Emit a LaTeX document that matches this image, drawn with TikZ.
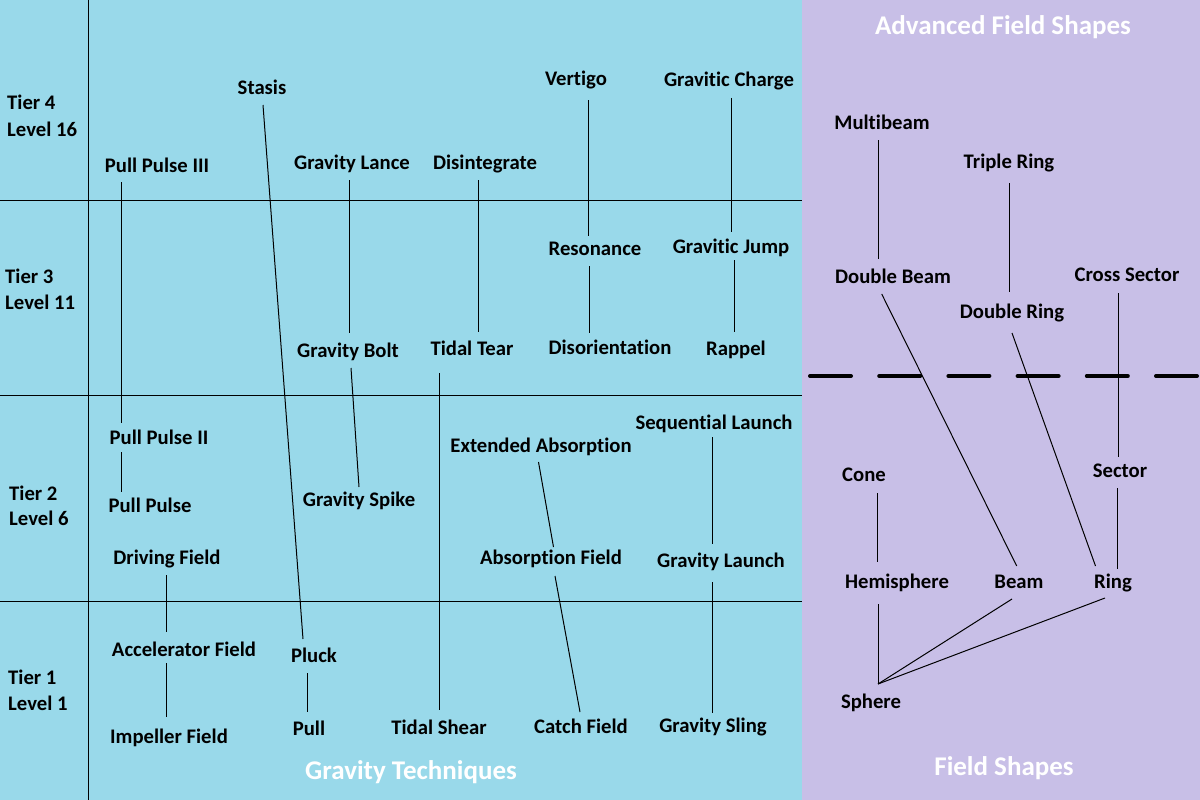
\documentclass[tikz,border=0pt]{standalone}
\usepackage{fontspec}
\setmainfont{Carlito}[Ligatures={NoCommon}]
\definecolor{skyb}{RGB}{153,217,234}
\definecolor{lav}{RGB}{200,191,231}
\tikzset{
  lbl/.style={font=\bfseries\fontsize{20.7}{24}\selectfont, inner sep=0pt, text height=13.3pt, text depth=0pt},
  ttl/.style={font=\bfseries\fontsize{27}{32}\selectfont, text=white, inner sep=0pt, text height=17.4pt, text depth=0pt},
  tier/.style={lbl, anchor=west},
  conn/.style={line width=1pt, black},
  grid/.style={line width=1pt, black},
  divider/.style={line width=4pt, black, line cap=round, dash pattern=on 41pt off 28.2pt}
}
\newcommand{\linkab}[4]{\draw[conn] ([shift={(#2)}]#1.center) -- ([shift={(#4)}]#3.center);}
\begin{document}
\begin{tikzpicture}[x=1pt,y=-1pt]
\useasboundingbox (0,0) rectangle (1200,800);
\fill[skyb] (0,0) rectangle (802,800);
\fill[lav] (802,0) rectangle (1200,800);
% grid
\draw[grid] (88,0) -- (88,800);
\draw[grid] (0,200) -- (802,200);
\draw[grid] (0,395) -- (802,395);
\draw[grid] (0,601) -- (802,601);
% tier labels
\node[tier] (t4a) at (7,103) {Tier 4};
\node[tier] (t4b) at (7,130) {Level 16};
\node[tier] (t3a) at (5,277) {Tier 3};
\node[tier] (t3b) at (5,303) {Level 11};
\node[tier] (t2a) at (9,494) {Tier 2};
\node[tier] (t2b) at (9,519) {Level 6};
\node[tier] (t1a) at (8,678) {Tier 1};
\node[tier] (t1b) at (8,704) {Level 1};
% gravity techniques
\node[lbl] (stasis) at (262,88) {Stasis};
\node[lbl] (ppiii) at (157,166) {Pull Pulse III};
\node[lbl] (lance) at (352,163) {Gravity Lance};
\node[lbl] (disint) at (485,163) {Disintegrate};
\node[lbl] (vertigo) at (576,79) {Vertigo};
\node[lbl] (gcharge) at (729,80) {Gravitic Charge};
\node[lbl] (reson) at (595,249) {Resonance};
\node[lbl] (gjump) at (731,247) {Gravitic Jump};
\node[lbl] (bolt) at (348,351) {Gravity Bolt};
\node[lbl] (tear) at (472,349) {Tidal Tear};
\node[lbl] (disor) at (610,348) {Disorientation};
\node[lbl] (rappel) at (736,349) {Rappel};
\node[lbl] (ppii) at (159,438) {Pull Pulse II};
\node[lbl] (pp) at (150,506) {Pull Pulse};
\node[lbl] (extabs) at (541,446) {Extended Absorption};
\node[lbl] (seqlaunch) at (714,423) {Sequential Launch};
\node[lbl] (spike) at (359,500) {Gravity Spike};
\node[lbl] (driving) at (167,558) {Driving Field};
\node[lbl] (absf) at (551,558) {Absorption Field};
\node[lbl] (glaunch) at (721,561) {Gravity Launch};
\node[lbl] (accel) at (184,650) {Accelerator Field};
\node[lbl] (pluck) at (314,656) {Pluck};
\node[lbl] (impeller) at (169,737) {Impeller Field};
\node[lbl] (pull) at (309,729) {Pull};
\node[lbl] (shear) at (439,728) {Tidal Shear};
\node[lbl] (catch) at (581,727) {Catch Field};
\node[lbl] (sling) at (713,726) {Gravity Sling};
\node[ttl] (gravtitle) at (411,771) {Gravity Techniques};
% field shapes
\node[ttl] (advtitle) at (1003,26) {Advanced Field Shapes};
\node[lbl] (multibeam) at (882,123) {Multibeam};
\node[lbl] (triple) at (1009,162) {Triple Ring};
\node[lbl] (dbeam) at (893,277) {Double Beam};
\node[lbl] (cross) at (1127,275) {Cross Sector};
\node[lbl] (dring) at (1012,312) {Double Ring};
\node[lbl] (cone) at (864,475) {Cone};
\node[lbl] (sector) at (1120,471) {Sector};
\node[lbl] (hemi) at (897,582) {Hemisphere};
\node[lbl] (beam) at (1019,582) {Beam};
\node[lbl] (ring) at (1113,582) {Ring};
\node[lbl] (sphere) at (871,702) {Sphere};
\node[ttl] (fstitle) at (1004,767) {Field Shapes};
\draw[divider] (810,376) -- (1200,376);
% connectors: gravity techniques
\linkab{ppiii}{-36,16}{ppii}{-38,-15}
\linkab{ppii}{-38,14}{pp}{-29,-14}
\linkab{stasis}{1,17}{pluck}{-11,-17}
\linkab{lance}{-3,17}{bolt}{1,-18}
\linkab{bolt}{3,17}{spike}{0,-13}
\linkab{disint}{-7,17}{tear}{6,-17}
\linkab{tear}{-33,24}{shear}{0,-18}
\linkab{vertigo}{12.5,21}{reson}{-6.5,-13}
\linkab{reson}{-6,17}{disor}{-21,-15}
\linkab{gcharge}{2,18}{gjump}{0,-15}
\linkab{gjump}{3,13}{rappel}{-2,-17}
\linkab{extabs}{-2.5,16}{absf}{2.5,-11}
\linkab{absf}{4,18}{catch}{-1,-15}
\linkab{seqlaunch}{-2,14}{glaunch}{-9,-17}
\linkab{glaunch}{-9,21}{sling}{-1,-13}
\linkab{driving}{-1,17}{accel}{-18,-18}
\linkab{accel}{-18,13}{impeller}{-3,-20}
\linkab{pluck}{-7,17}{pull}{-2,-17}
% connectors: field shapes
\linkab{multibeam}{-4,17}{dbeam}{-15,-18}
\linkab{triple}{0,21}{dring}{-3,-20}
\linkab{dbeam}{-11.3,17}{beam}{-2.3,-16}
\linkab{dring}{0,21}{ring}{-17.5,-16}
\linkab{cross}{-9,18}{sector}{-2,-14}
\linkab{sector}{-3,17}{ring}{4,-13}
\linkab{cone}{13,18}{hemi}{-20,-20}
\linkab{hemi}{-19,22}{sphere}{7,-18}
\linkab{beam}{-7,17}{sphere}{7,-18}
\linkab{ring}{-8,16}{sphere}{7,-18}
\end{tikzpicture}
\end{document}
